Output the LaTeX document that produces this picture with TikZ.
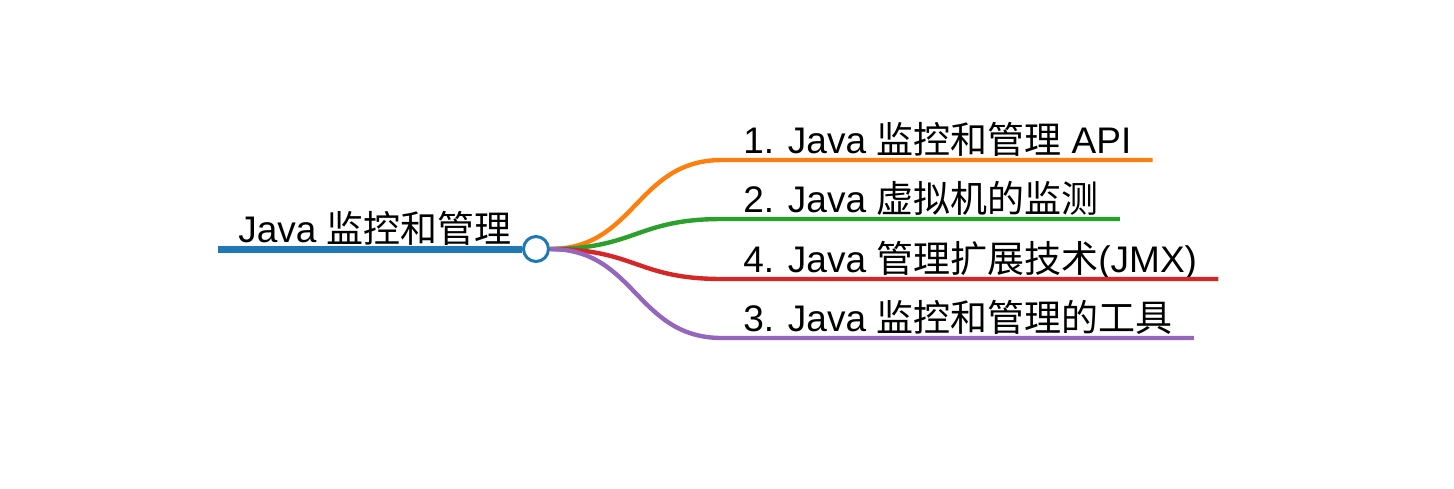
\documentclass[tikz,border=0pt]{standalone}
\usepackage{fontspec}
\setmainfont{Liberation Sans}
\newfontfamily\cjk{Noto Sans CJK SC}
\usetikzlibrary{positioning, calc}
\definecolor{rootblue}{RGB}{31,119,180}
\definecolor{branchorange}{RGB}{255,127,14}
\definecolor{branchgreen}{RGB}{44,160,44}
\definecolor{branchred}{RGB}{214,39,40}
\definecolor{branchpurple}{RGB}{148,103,189}
\tikzset{
x=0.5pt, y=-0.5pt, % one unit is one pixel of the sketch
topic/.style={font=\fontsize{18.5}{22}\selectfont, inner xsep=10.5pt, inner ysep=0pt, anchor=base west}, % text sitting on a line
hub/.style={circle, draw=rootblue, fill=white, line width=1.5pt, minimum size=12.5pt, inner sep=0pt}, % the round knot
trunk/.style={rootblue, line width=3.5pt}, % the thick root line
branch/.style={line width=2.2pt}, % the coloured lines
}

\begin{document}
\begin{tikzpicture}
  \useasboundingbox (0,0) rectangle (1454,488);
  \node[hub] (hub) at (536,249) {};
  \node[topic, inner xsep=10pt] (root) at (218,242) {Java {\cjk 监控和管理}};
  \node[topic] (api) at (722,153) {1. Java {\cjk 监控和管理} API};
  \node[topic] (jvm) at (722,212) {2. Java {\cjk 虚拟机的监测}};
  \node[topic] (jmx) at (722,272) {4. Java {\cjk 管理扩展技术}(JMX)};
  \node[topic] (tools) at (722,331) {3. Java {\cjk 监控和管理的工具}};

  \draw[trunk] ($(root.base west)+(0,7)$) -- (hub.west);
  \foreach \n/\c in {api/branchorange, jvm/branchgreen, jmx/branchred, tools/branchpurple}
    \draw[branch, \c] (hub.east) .. controls +(86,0) and +(-86,0) .. ($(\n.base west)+(0,7)$) -- ($(\n.base east)+(0,7)$);
\end{tikzpicture}
\end{document}
